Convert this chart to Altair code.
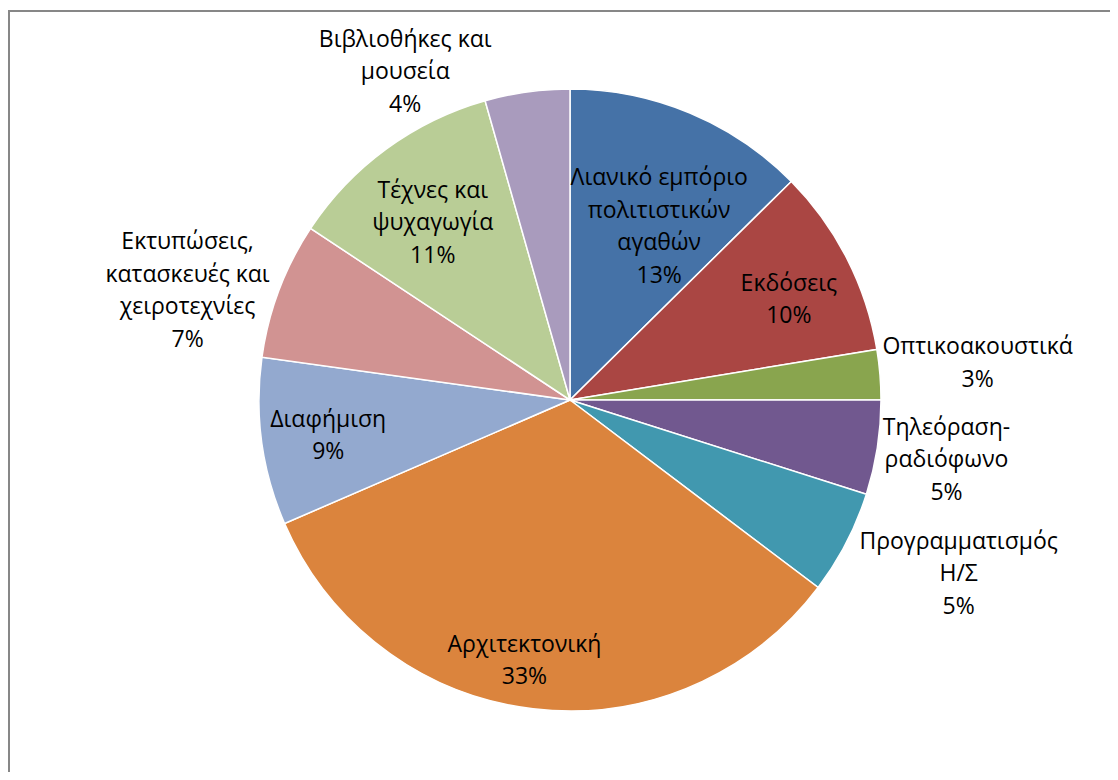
import altair as alt
import pandas as pd

# ---- data ----
categories = [
    "Λιανικό εμπόριο\nπολιτιστικών\nαγαθών",
    "Εκδόσεις",
    "Οπτικοακουστικά",
    "Τηλεόραση-\nραδιόφωνο",
    "Προγραμματισμός\nΗ/Σ",
    "Αρχιτεκτονική",
    "Διαφήμιση",
    "Εκτυπώσεις,\nκατασκευές και\nχειροτεχνίες",
    "Τέχνες και\nψυχαγωγία",
    "Βιβλιοθήκες και\nμουσεία",
]
values = [12.6, 9.8, 2.6, 4.9, 5.4, 33.2, 8.7, 7.1, 11.3, 4.4]
colors = ["#4572A7", "#AA4643", "#89A54E", "#71588F", "#4198AF",
          "#DB843D", "#93A9CF", "#D19392", "#B9CD96", "#A99BBD"]

# ---- label placement styles (radius, dx, dy) ----
label_style = [
    (195, 14, 7),
    (240, 5, 9),
    (409, 0, -3),
    (381, 0, 2),
    (423, 13, -20),
    (265, -14, -2),
    (244, 0, 3),
    (396, -12, 31),
    (224, -5, 4),
    (347, -117, 16),
]
LINE_H = 32.5

total = sum(values)
starts, ends, mids = [], [], []
acc = 0.0
for v in values:
    starts.append(acc)
    mids.append(acc + v / 2)
    acc += v
    ends.append(acc)

labels = [f"{c}\n{round(v / total * 100)}%" for c, v in zip(categories, values)]

df = pd.DataFrame({
    "idx": list(range(len(categories))),
    "cat": categories,
    "value": values,
    "start": starts,
    "end": ends,
    "mid": mids,
    "label": labels,
})

CX, CY, R = 562, 392, 311
theta_scale = alt.Scale(type="linear", domain=[0, total], range=[0, 6.283185307179586])

base = alt.Chart(df)

arcs = base.mark_arc(outerRadius=R, stroke="white", strokeWidth=1.5).encode(
    theta=alt.Theta("start:Q", scale=theta_scale),
    theta2="end:Q",
    color=alt.Color("cat:N", scale=alt.Scale(domain=categories, range=colors), legend=None),
    x=alt.value(CX),
    y=alt.value(CY),
)

layers = [arcs]
for i, (r, dx, dy) in enumerate(label_style):
    n_lines = labels[i].count("\n") + 1
    dy_adj = dy - (n_lines - 1) * LINE_H / 2
    t = base.transform_filter(alt.datum.idx == i).mark_text(
        radius=r, dx=dx, dy=dy_adj, lineBreak="\n", lineHeight=LINE_H,
        font="Open Sans", fontSize=23, color="#000000",
        align="center", baseline="middle",
    ).encode(
        theta=alt.Theta("mid:Q", scale=theta_scale),
        text="label:N",
        x=alt.value(CX),
        y=alt.value(CY),
    )
    layers.append(t)

frame = alt.Chart(pd.DataFrame({"k": [0]})).mark_rect(
    fill=None, stroke="#878787", strokeWidth=2
).encode(
    x=alt.value(1), y=alt.value(3), x2=alt.value(1300), y2=alt.value(1000)
)
layers.append(frame)

chart = alt.layer(*layers).properties(
    width=1102, height=764, padding=0,
    autosize=alt.AutoSizeParams(type="none"),
    background="white",
).configure_view(stroke=None)

chart.save("out.html", embed_options={"renderer": "svg", "actions": False})
